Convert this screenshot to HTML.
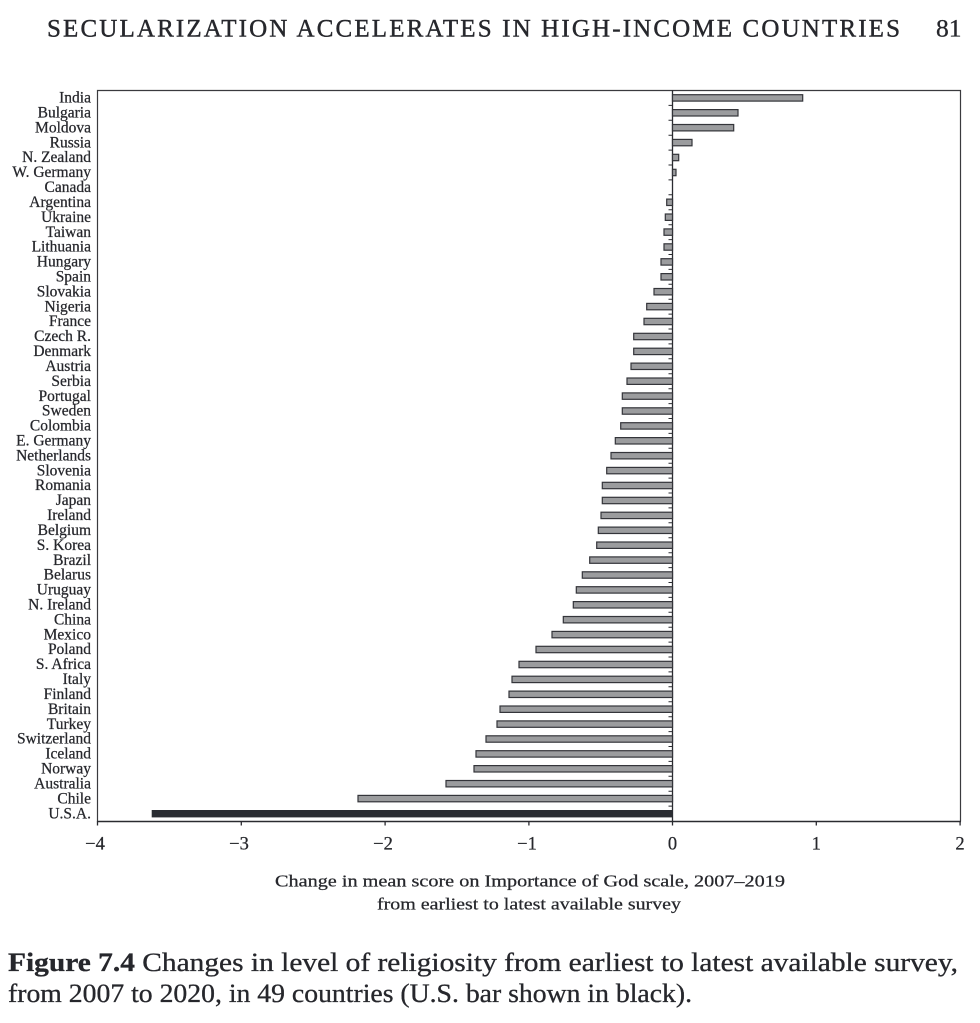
<!DOCTYPE html>
<html>
<head>
<meta charset="utf-8">
<style>
html,body{margin:0;padding:0;background:#fff;}
svg{display:block;}
text{font-family:"Liberation Serif",serif;fill:#26272c;stroke:#26272c;stroke-width:0.25;}
</style>
</head>
<body>
<svg width="980" height="1023" viewBox="0 0 980 1023" xmlns="http://www.w3.org/2000/svg">
<rect width="980" height="1023" fill="#fff"/>
<!-- header -->
<text x="47" y="36.5" font-size="25" textLength="853" lengthAdjust="spacing" style="stroke-width:0.4">SECULARIZATION ACCELERATES IN HIGH-INCOME COUNTRIES</text>
<text x="936" y="36.5" font-size="25.5" style="stroke-width:0.3">81</text>

<!-- chart frame -->
<path d="M97.5 821.5 V90.5 H960.5 V821.5" fill="none" stroke="#3a3a3e" stroke-width="1.2"/>
<line x1="97" y1="821.5" x2="961" y2="821.5" stroke="#2a2b30" stroke-width="1.6"/>
<line x1="672.5" y1="90" x2="672.5" y2="822" stroke="#2a2b30" stroke-width="1.3"/>
<!-- x ticks -->
<path d="M97.5 821 v4.5 M241.3 821 v4.5 M385.1 821 v4.5 M528.9 821 v4.5 M672.5 821 v4.5 M816.3 821 v4.5 M960.1 821 v4.5" stroke="#2a2b30" stroke-width="1.3"/>
<!-- category ticks on zero axis -->
<path stroke="#2a2b30" stroke-width="1" d="M668.5 105.4h4 M668.5 120.3h4 M668.5 135.2h4 M668.5 150.1h4 M668.5 165.0h4 M668.5 179.9h4 M668.5 194.8h4 M668.5 209.8h4 M668.5 224.7h4 M668.5 239.6h4 M668.5 254.5h4 M668.5 269.4h4 M668.5 284.3h4 M668.5 299.2h4 M668.5 314.1h4 M668.5 329.0h4 M668.5 343.9h4 M668.5 358.8h4 M668.5 373.8h4 M668.5 388.7h4 M668.5 403.6h4 M668.5 418.5h4 M668.5 433.4h4 M668.5 448.3h4 M668.5 463.2h4 M668.5 478.1h4 M668.5 493.0h4 M668.5 507.9h4 M668.5 522.8h4 M668.5 537.8h4 M668.5 552.7h4 M668.5 567.6h4 M668.5 582.5h4 M668.5 597.4h4 M668.5 612.3h4 M668.5 627.2h4 M668.5 642.1h4 M668.5 657.0h4 M668.5 671.9h4 M668.5 686.8h4 M668.5 701.8h4 M668.5 716.7h4 M668.5 731.6h4 M668.5 746.5h4 M668.5 761.4h4 M668.5 776.3h4 M668.5 791.2h4 M668.5 806.1h4"/>

<!-- bars -->
<g fill="#9b9c9e" stroke="#34353a" stroke-width="1.2">
<rect x="672.5" y="94.7" width="130.2" height="6.4"/>
<rect x="672.5" y="109.6" width="65.5" height="6.4"/>
<rect x="672.5" y="124.5" width="61.2" height="6.4"/>
<rect x="672.5" y="139.4" width="19.5" height="6.4"/>
<rect x="672.5" y="154.3" width="6.2" height="6.4"/>
<rect x="672.5" y="169.3" width="3.5" height="6.4"/>
<rect x="666.7" y="199.1" width="5.8" height="6.4"/>
<rect x="665.3" y="214.0" width="7.2" height="6.4"/>
<rect x="664.0" y="228.9" width="8.5" height="6.4"/>
<rect x="664.0" y="243.8" width="8.5" height="6.4"/>
<rect x="661.0" y="258.7" width="11.5" height="6.4"/>
<rect x="661.0" y="273.6" width="11.5" height="6.4"/>
<rect x="654.0" y="288.5" width="18.5" height="6.4"/>
<rect x="646.7" y="303.4" width="25.8" height="6.4"/>
<rect x="644.0" y="318.3" width="28.5" height="6.4"/>
<rect x="633.7" y="333.3" width="38.8" height="6.4"/>
<rect x="633.7" y="348.2" width="38.8" height="6.4"/>
<rect x="631.0" y="363.1" width="41.5" height="6.4"/>
<rect x="627.0" y="378.0" width="45.5" height="6.4"/>
<rect x="622.3" y="392.9" width="50.2" height="6.4"/>
<rect x="622.3" y="407.8" width="50.2" height="6.4"/>
<rect x="620.7" y="422.7" width="51.8" height="6.4"/>
<rect x="615.3" y="437.6" width="57.2" height="6.4"/>
<rect x="611.0" y="452.5" width="61.5" height="6.4"/>
<rect x="606.7" y="467.4" width="65.8" height="6.4"/>
<rect x="602.3" y="482.3" width="70.2" height="6.4"/>
<rect x="602.3" y="497.3" width="70.2" height="6.4"/>
<rect x="601.0" y="512.2" width="71.5" height="6.4"/>
<rect x="598.3" y="527.1" width="74.2" height="6.4"/>
<rect x="596.7" y="542.0" width="75.8" height="6.4"/>
<rect x="589.7" y="556.9" width="82.8" height="6.4"/>
<rect x="582.3" y="571.8" width="90.2" height="6.4"/>
<rect x="576.3" y="586.7" width="96.2" height="6.4"/>
<rect x="573.3" y="601.6" width="99.2" height="6.4"/>
<rect x="563.3" y="616.5" width="109.2" height="6.4"/>
<rect x="552.0" y="631.4" width="120.5" height="6.4"/>
<rect x="536.0" y="646.3" width="136.5" height="6.4"/>
<rect x="519.0" y="661.3" width="153.5" height="6.4"/>
<rect x="512.0" y="676.2" width="160.5" height="6.4"/>
<rect x="509.0" y="691.1" width="163.5" height="6.4"/>
<rect x="500.0" y="706.0" width="172.5" height="6.4"/>
<rect x="497.0" y="720.9" width="175.5" height="6.4"/>
<rect x="486.0" y="735.8" width="186.5" height="6.4"/>
<rect x="476.0" y="750.7" width="196.5" height="6.4"/>
<rect x="474.0" y="765.6" width="198.5" height="6.4"/>
<rect x="446.0" y="780.5" width="226.5" height="6.4"/>
<rect x="358.0" y="795.4" width="314.5" height="6.4"/>
</g>
<rect x="151.7" y="810.0" width="520.8" height="7.4" fill="#2b2d33"/>

<!-- category labels -->
<g font-size="15.5" text-anchor="end">
<text x="91" y="102.6">India</text>
<text x="91" y="117.5">Bulgaria</text>
<text x="91" y="132.4">Moldova</text>
<text x="91" y="147.3">Russia</text>
<text x="91" y="162.2">N. Zealand</text>
<text x="91" y="177.2">W. Germany</text>
<text x="91" y="192.1">Canada</text>
<text x="91" y="207.0">Argentina</text>
<text x="91" y="221.9">Ukraine</text>
<text x="91" y="236.8">Taiwan</text>
<text x="91" y="251.7">Lithuania</text>
<text x="91" y="266.6">Hungary</text>
<text x="91" y="281.5">Spain</text>
<text x="91" y="296.4">Slovakia</text>
<text x="91" y="311.3">Nigeria</text>
<text x="91" y="326.2">France</text>
<text x="91" y="341.2">Czech R.</text>
<text x="91" y="356.1">Denmark</text>
<text x="91" y="371.0">Austria</text>
<text x="91" y="385.9">Serbia</text>
<text x="91" y="400.8">Portugal</text>
<text x="91" y="415.7">Sweden</text>
<text x="91" y="430.6">Colombia</text>
<text x="91" y="445.5">E. Germany</text>
<text x="91" y="460.4">Netherlands</text>
<text x="91" y="475.3">Slovenia</text>
<text x="91" y="490.2">Romania</text>
<text x="91" y="505.2">Japan</text>
<text x="91" y="520.1">Ireland</text>
<text x="91" y="535.0">Belgium</text>
<text x="91" y="549.9">S. Korea</text>
<text x="91" y="564.8">Brazil</text>
<text x="91" y="579.7">Belarus</text>
<text x="91" y="594.6">Uruguay</text>
<text x="91" y="609.5">N. Ireland</text>
<text x="91" y="624.4">China</text>
<text x="91" y="639.3">Mexico</text>
<text x="91" y="654.2">Poland</text>
<text x="91" y="669.2">S. Africa</text>
<text x="91" y="684.1">Italy</text>
<text x="91" y="699.0">Finland</text>
<text x="91" y="713.9">Britain</text>
<text x="91" y="728.8">Turkey</text>
<text x="91" y="743.7">Switzerland</text>
<text x="91" y="758.6">Iceland</text>
<text x="91" y="773.5">Norway</text>
<text x="91" y="788.4">Australia</text>
<text x="91" y="803.3">Chile</text>
<text x="91" y="818.3">U.S.A.</text>
</g>

<!-- x tick labels -->
<g font-size="18.5" text-anchor="middle">
<text x="95" y="849.5">−4</text>
<text x="239" y="849.5">−3</text>
<text x="383" y="849.5">−2</text>
<text x="527" y="849.5">−1</text>
<text x="672.5" y="849.5">0</text>
<text x="816.3" y="849.5">1</text>
<text x="960" y="849.5">2</text>
</g>

<!-- axis title -->
<text x="275" y="886.5" font-size="17" textLength="510" lengthAdjust="spacingAndGlyphs">Change in mean score on Importance of God scale, 2007–2019</text>
<text x="377" y="909.5" font-size="17" textLength="304" lengthAdjust="spacingAndGlyphs">from earliest to latest available survey</text>

<!-- figure caption -->
<text x="8" y="971" font-size="26" textLength="950" lengthAdjust="spacingAndGlyphs" style="stroke-width:0.3"><tspan font-weight="bold">Figure 7.4</tspan>  Changes in level of religiosity from earliest to latest available survey,</text>
<text x="8" y="1002" font-size="26" textLength="684" lengthAdjust="spacingAndGlyphs" style="stroke-width:0.3">from 2007 to 2020, in 49 countries (U.S. bar shown in black).</text>
</svg>
</body>
</html>
